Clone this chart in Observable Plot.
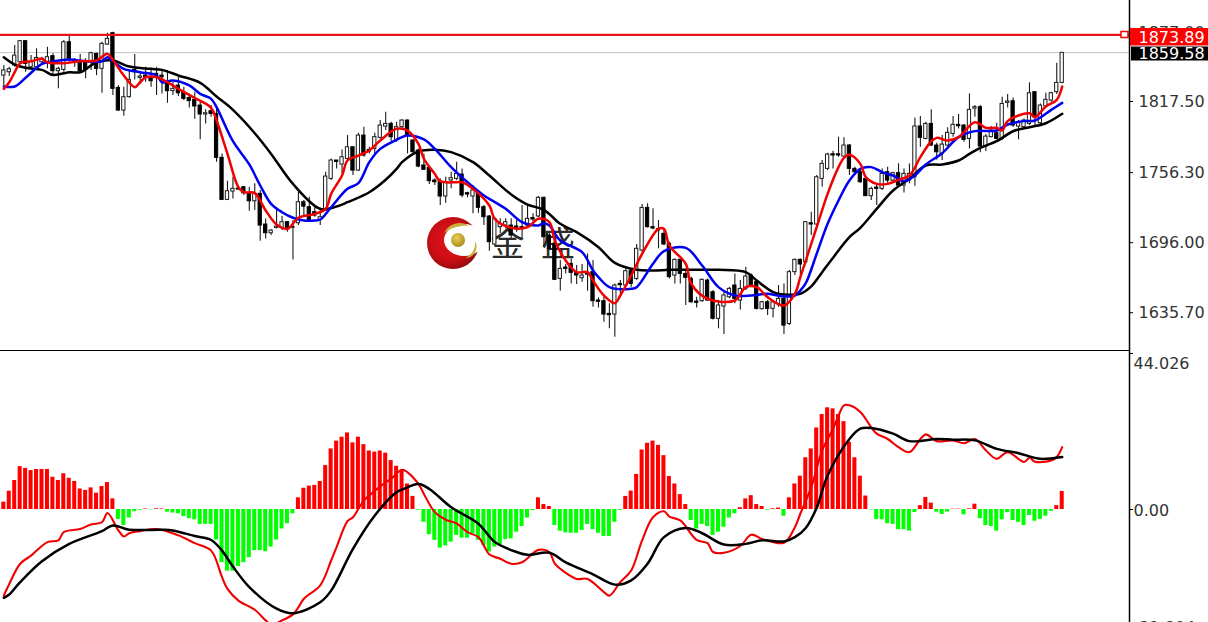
<!DOCTYPE html>
<html><head><meta charset="utf-8">
<script src="https://cdn.jsdelivr.net/npm/d3@7"></script>
<script src="https://cdn.jsdelivr.net/npm/@observablehq/plot@0.6"></script>
<style>
html,body{margin:0;padding:0;background:#fff;width:1208px;height:622px;overflow:hidden}
#wrap{position:relative;width:1208px;height:622px}
#logo{position:absolute;left:424px;top:214px;z-index:0}
#top,#bottom{position:relative;z-index:1}
svg{display:block}
</style></head><body>
<div id="wrap">
<svg id="logo" width="60" height="60" viewBox="0 0 60 60">
<defs><radialGradient id="rg" cx="45%" cy="45%" r="58%"><stop offset="0" stop-color="#e8141c"/><stop offset=".7" stop-color="#c80d14"/><stop offset="1" stop-color="#8e0a10"/></radialGradient>
<radialGradient id="gg" cx="40%" cy="35%" r="70%"><stop offset="0" stop-color="#e6cf5a"/><stop offset="1" stop-color="#a8891c"/></radialGradient></defs>
<circle cx="29" cy="29" r="26" fill="url(#rg)"/>
<ellipse cx="40" cy="26" rx="20" ry="16" fill="#fff"/>
<path d="M20 19 C25 9 37 6 45 12 C38 11 28 13 20 19Z" fill="#c9ad3e"/>
<path d="M41 44 C48 41 52 34 51 27 C55 34 51 44 41 44Z" fill="#c9ad3e"/>
<circle cx="34" cy="26" r="7" fill="url(#gg)"/>
</svg>
<div id="top"></div>
<div id="bottom"></div>
</div>
<script>
const opens=[1839.8,1842.7,1848.5,1851.3,1869.4,1847,1847,1851.3,1851.3,1856.5,
1843.6,1844.7,1868.5,1853.3,1852.2,1851.3,1851.3,1858.5,1845.6,1866.5,
1876.3,1829.2,1809.7,1821.2,1844.7,1837.8,1839.8,1838.4,1841.3,1839.8,
1833.2,1826.4,1831.2,1825.5,1820.6,1818.9,1814,1806.3,1809.1,1806.8,
1769,1732.8,1740,1742.6,1743.7,1738.5,1731.6,1738,1711.6,1704.1,
1708.7,1708.7,1713.6,1708.7,1712.7,1730.8,1726.5,1722.2,1715.6,1723.6,
1750.9,1766.7,1763.2,1768.1,1778.1,1758,1788.2,1775.8,1776.7,1786.2,
1795.9,1798.2,1784.5,1795.4,1801.1,1783.9,1775.3,1762.4,1760.4,1749.5,
1748,1735.7,1749.5,1750.9,1754.6,1738.6,1735.7,1739.4,1726.5,1718.5,
1694.4,1709.3,1710.7,1710.7,1709.9,1709.3,1710.7,1717.1,1718.5,1734.6,
1702.1,1695,1664.8,1674.6,1677.7,1669.7,1665.4,1669.7,1670.6,1646.2,
1645.6,1634.7,1634.1,1660.5,1659.1,1671.4,1664.8,1689.2,1725.9,1709.3,
1706.4,1703.6,1695,1667.7,1681.2,1669.1,1664.8,1645.3,1645.6,1663.4,
1653.3,1630.4,1641,1649,1659.1,1646.2,1656.2,1667.7,1662,1638.7,
1644.7,1639,1643.3,1647.6,1626,1670.6,1681.2,1679.1,1712.7,1711.6,
1750.9,1759.5,1772.1,1772.1,1770.1,1779.6,1759.5,1756.6,1750.9,1736,
1743.4,1742.3,1756.6,1749.4,1755.8,1745.1,1749.4,1752.3,1796,1785.3,
1798.2,1779.6,1772.4,1779.6,1789.6,1797.4,1796.8,1785.3,1811.4,1812.6,
1778.7,1786.8,1790.2,1785.3,1816.3,1817.7,1795.9,1795.4,1798.2,1825.5,
1798.8,1813.2,1818.3,1825.5,1833.5];
const highs=[1848.5,1847,1865.7,1870,1870,1857,1862.8,1855.6,1864.2,1858.5,
1847,1870,1874.3,1854.2,1857.9,1854.2,1859.9,1859.1,1868.5,1876.3,
1877.2,1831.2,1829.8,1844.2,1857.9,1841.3,1847,1845.6,1847,1844.2,
1844.2,1834.1,1838.4,1829.8,1824,1825.5,1816.9,1810.3,1814,1811.1,
1772.4,1748.9,1752.3,1744.3,1744.3,1743.7,1746.6,1740.8,1716.4,1707,
1724.2,1718.4,1714.1,1715,1739.4,1732.2,1735.1,1727.9,1725.9,1756.6,
1768.1,1766.7,1775.8,1788.2,1778.7,1790.2,1795.4,1778.1,1790.2,1801.1,
1808.3,1799.7,1799.7,1801.7,1801.7,1784.5,1776.7,1772.4,1761,1750.9,
1750.9,1752.3,1756.7,1765.3,1759.5,1739.4,1745.2,1740.9,1728,1719.3,
1717.1,1716.5,1716.5,1716.5,1715,1728,1728,1720.8,1735.7,1735.1,
1703.6,1696.4,1680.6,1677.2,1682,1676.3,1677.2,1686.3,1680.6,1648.5,
1649,1643.3,1660.5,1663.4,1673.4,1673.4,1694.4,1728.8,1729.4,1725.1,
1715,1706.4,1696.4,1682,1682,1672,1666.3,1649,1664.8,1664.8,
1654.8,1646.2,1653.3,1657.7,1669.1,1663.4,1674.9,1669.1,1663.4,1645.6,
1646.2,1646.2,1659.1,1660.5,1672,1682,1682,1714.1,1722.2,1753.8,
1766.7,1773,1774.7,1786.8,1786.2,1780.4,1760.9,1758,1751.7,1743.7,
1745.1,1759.5,1760.9,1756.6,1763.8,1759.5,1763.8,1803.4,1804.5,1799.7,
1810.3,1781.6,1788.2,1794.8,1804.5,1806.3,1797.6,1824,1814,1814,
1789,1795.9,1798.8,1821.2,1823.5,1820.6,1801.1,1802.5,1833.5,1826.1,
1815.4,1824.6,1825.5,1850.5,1859.6];
const lows=[1831.2,1839,1847,1849.9,1842.7,1845.6,1845.6,1849.9,1845.6,1839.8,
1828.4,1842.7,1851.3,1847,1842.7,1837,1844.2,1839.8,1824.6,1865.7,
1822.6,1809.1,1804.8,1820.6,1836.1,1832.7,1834.1,1829.8,1822.6,1824,
1816,1822.6,1821.8,1818.3,1812,1802.2,1784.5,1798.2,1804,1765.2,
1732.2,1732.2,1733.6,1740.8,1736.5,1723,1723.6,1697.2,1699.2,1702.1,
1707.8,1706.4,1705,1681.1,1710.7,1717.9,1715,1717.9,1710.7,1723,
1749.4,1759.5,1755.2,1766.7,1753.8,1757.5,1769.5,1772.4,1772.4,1785.3,
1792.5,1782.4,1782.4,1792.5,1772.4,1772.4,1760.4,1758.1,1746,1745.2,
1728,1730,1742.3,1749.5,1734.6,1734.6,1720.8,1721.4,1710.7,1688.6,
1693.5,1703.6,1707.9,1699.3,1705,1699.3,1709.3,1713.6,1717.3,1692.1,
1689.2,1663.4,1654.2,1669.1,1660.5,1659.9,1662,1654.2,1640.4,1639.8,
1627.5,1621.8,1614.6,1651.9,1657.7,1657.7,1663.4,1687.8,1708.7,1707,
1690.7,1693.5,1664.8,1660.5,1660.5,1641.9,1643.9,1639.8,1644.7,1645.6,
1629.5,1621.8,1616.9,1647.6,1643.3,1638.1,1654.8,1657.7,1638.1,1638.1,
1633.2,1631.2,1640.4,1616.9,1624.6,1667.7,1667.7,1677.7,1702.1,1710.7,
1743.7,1758,1759.5,1769.5,1769.5,1753.8,1753.8,1747.1,1735.7,1732.2,
1727.9,1740.8,1746.6,1748.9,1744.6,1738.8,1746.6,1744.6,1778.1,1784.5,
1778.7,1767.2,1766.7,1778.7,1786.8,1793.9,1782.4,1776.7,1804,1773.3,
1774.4,1786.2,1784.5,1783.9,1812,1795.4,1784.5,1793.1,1796.8,1796.8,
1797.6,1812,1816.9,1823.5,1832.7];
const closes=[1844.2,1845.3,1857,1869.4,1849.9,1851.3,1855,1854.2,1855.6,1843.6,
1845.6,1868.5,1853.3,1851.3,1843.6,1844.7,1859.1,1845.6,1867.1,1871.4,
1828.4,1809.7,1821.2,1836.1,1842.7,1839,1838.4,1835,1839.8,1838.4,
1826.4,1828.4,1824.6,1819.8,1817.8,1813.2,1806.3,1807.4,1806.8,1769,
1732.8,1740.3,1742.3,1741.7,1738.5,1731.6,1738,1710.7,1704.1,1706.4,
1709.8,1713.6,1708.7,1709.5,1730.8,1727,1715.6,1719.3,1717.9,1752.9,
1766.7,1765.5,1769.5,1778.1,1758,1788.2,1771,1774.4,1786.8,1796.8,
1798.2,1786.8,1795.4,1801.1,1788.2,1773.9,1761.5,1758.7,1748.9,1748,
1735.7,1748,1751.5,1755.2,1736.6,1737.4,1740.9,1726,1717.9,1696.4,
1716.5,1712.2,1713.6,1702.1,1708.7,1708.2,1716.5,1715.9,1734.6,1700.7,
1690.7,1664,1673.4,1673.4,1670,1667.7,1667.7,1668.5,1645.6,1645,
1634.1,1633.5,1659.1,1659.4,1671.4,1660.5,1690.7,1725.9,1709.3,1708.2,
1707.6,1694.4,1666.3,1681.2,1669.1,1665.7,1644.7,1644.2,1664,1646.2,
1630.4,1641.9,1650.5,1656.2,1647.6,1656.2,1666.8,1659.1,1639,1644.7,
1639,1644.7,1647.6,1624.6,1670.6,1681.2,1677.2,1713.6,1711.6,1752.3,
1763.8,1771.8,1771,1771,1779.6,1759.5,1756.6,1748,1736,1742.3,
1742.3,1755.2,1749.4,1755.8,1745.1,1755.2,1755.2,1796,1786.2,1798.2,
1779.6,1773.8,1780.4,1790.5,1797.4,1796.2,1784.5,1810.3,1812.6,1778.7,
1787.3,1792.5,1785.3,1815.4,1817.5,1796.8,1799.7,1801.1,1824.6,1804,
1814,1818.9,1824.6,1833.5,1859.4];

const maRedBars=[0,1,2,3,5,7,8,11,14,17,19,20,22,24,25,26,28,30,32,35,38,39,41,43,44,46,48,50,52,54,57,59,60,62,63,65,67,69,72,74,76,77,79,80,83,84,86,89,90,93,96,98,100,101,103,105,107,108,110,112,113,115,117,120,121,122,125,126,129,134,136,138,140,143,145,146,147,149,151,153,154,155,157,158,160,162,164,166,168,170,171,173,175,178,180,182,183,184,188,189,191,193,194];
const maRed=[1828.4,1834.1,1842.7,1850.5,1852.2,1854.2,1851.3,1850.5,1852.2,1852.8,1858.5,1853.3,1839.9,1829.8,1834.1,1838.4,1838.4,1834.1,1828.4,1820.6,1812,1801.1,1772.4,1743.7,1739.4,1738.6,1723.7,1711.6,1707.9,1717.4,1720.8,1725.1,1738,1753.8,1766.7,1771,1775.3,1783.9,1794,1792.5,1781.1,1768.2,1755.2,1748.9,1748,1748,1742.3,1728,1716.5,1708.8,1709.3,1716.5,1713.6,1697.9,1680.6,1670.6,1670.6,1663.4,1650.5,1643.9,1650.5,1667.7,1686.4,1707.9,1707.9,1693.5,1677.8,1660.6,1647.7,1646.2,1657.7,1657.7,1649.1,1641.9,1652,1666.3,1680.6,1709.3,1738,1761,1769,1771.6,1763.8,1752.4,1746.6,1746.6,1750.1,1753.8,1769.6,1783.3,1786.2,1783.9,1786.8,1799.7,1794.8,1794.8,1792.5,1800.6,1807.4,1804,1813.2,1818.9,1830.4];

const maBlueBars=[0,2,4,7,9,12,15,18,19,20,22,25,28,29,31,34,36,38,39,42,45,47,49,51,53,55,57,58,60,63,65,67,69,72,73,74,77,79,82,85,88,90,92,95,98,99,100,102,106,108,109,111,115,116,119,121,125,128,131,134,137,140,143,145,146,147,149,151,153,155,157,159,161,163,165,167,169,172,175,178,182,184,187,189,192,194];
const maBlue=[1830.4,1830.4,1837.9,1849.9,1851.9,1853.6,1852.2,1852.2,1855.6,1852.2,1845.6,1842.7,1839.9,1834.1,1835.6,1831.3,1824.1,1819.8,1812.6,1783.3,1763.3,1745.2,1729.4,1722.2,1717.4,1715,1715,1715.9,1726.5,1742.3,1747.2,1765.3,1776.7,1784.5,1786.8,1788.2,1784.8,1776.8,1761,1748,1736.6,1730.9,1725.1,1713.6,1710.8,1712.8,1710.8,1697.9,1687.8,1672,1666.3,1657.7,1656.3,1657.7,1677.8,1688.7,1691.5,1676.3,1657.7,1650.5,1650.5,1652,1649.6,1650.5,1654.8,1661.1,1686.4,1712.2,1732.3,1749.5,1759.5,1761,1756.7,1753.8,1748.9,1753.8,1763.3,1773,1786.8,1792,1792.5,1797.7,1800.6,1801.1,1810.3,1816.3];

const maBlackBars=[0,2,4,7,9,12,14,17,20,23,27,29,32,36,39,42,46,49,53,58,61,63,67,70,72,73,76,79,82,86,89,93,96,99,102,105,109,112,116,119,122,126,131,136,138,141,143,146,148,150,152,155,157,160,163,166,169,172,175,177,179,182,185,188,191,194];
const maBlack=[1855.6,1849.3,1846.5,1844.7,1840.4,1842.7,1842.7,1851.3,1852.8,1847.6,1845.6,1844.7,1839.9,1833.6,1821.8,1810.3,1790.2,1772.4,1746.6,1725.1,1727.1,1730.8,1739.4,1750.1,1759.5,1765.3,1774.5,1775.9,1773.9,1765.3,1753.8,1737.5,1728.8,1724.2,1712.2,1705,1692.1,1678.6,1672.6,1672,1672.6,1672.6,1672.6,1670.6,1663.4,1653.4,1651.4,1652,1658.3,1670.6,1683,1700.7,1708.7,1725.1,1740.9,1750.9,1762.4,1763.3,1766.7,1772.4,1777.6,1783.3,1791.9,1795.4,1798.8,1806.9];

const histogram=[2.07,5.17,8.18,12.1,11.6,11,11.3,11.3,11.3,9.1,
8.2,10.1,8.8,7.9,5.8,5.4,6.1,4.6,6.5,7.6,
3,-2.8,-4.5,-2.4,-0.6,-0.2,0.15,-0.1,0.2,0.15,
-0.75,-1,-1.2,-2,-2.6,-2.9,-4.2,-4.2,-4.2,-8.6,
-15,-17.4,-17.4,-16.1,-15,-13.6,-11.6,-11.6,-11.9,-10.6,
-8.6,-5.5,-4,-1.2,3.3,6,6.6,6.8,7.9,12.4,
17.1,19.3,20.4,21.6,18.8,20.4,18.3,16.5,16.2,16.5,
15.9,13.8,12.2,11.2,7.2,3.7,-0.2,-3.6,-7.1,-8.7,
-10.9,-10.3,-9.2,-7.3,-8.1,-8.1,-6.9,-8.7,-10.2,-12,
-10.6,-9.9,-8.5,-8.3,-6.4,-4.8,-2.4,-0.3,3.3,1.4,
0.85,-4.5,-6.1,-6.6,-6.7,-6.7,-5.9,-4.2,-5.7,-6.7,
-7.6,-7.6,-3.6,-0.2,3.7,5.2,9.9,16.8,18.7,19.3,
18.1,15.2,9.3,7.2,4.2,1.4,-3.1,-5.5,-4.2,-4.8,
-7.3,-6.4,-5,-2.4,-1.2,0.5,3,3.9,1.4,0.85,
-0.2,0.2,0.4,-1.9,3.3,7.2,9.4,14.6,17.1,23,
26.8,28.7,28.4,26.8,24.8,19,14.6,9.4,3.8,-0.1,
-2.8,-2.9,-4,-4.2,-5.7,-5.7,-6.1,-0.85,1.1,3.4,
1.8,-0.75,-1.4,-0.75,0.1,0.1,-1.5,0.2,1.5,-2.6,
-4.5,-4.8,-6.1,-2.9,-0.9,-3.1,-3.6,-4.5,-1.7,-3.3,
-2.8,-1.9,-0.5,1.1,5.1];

const macdBars=[0,1,3,5,8,10,11,14,16,18,19,21,22,23,25,28,32,35,38,40,41,43,46,48,49,51,53,54,55,58,60,61,63,64,65,66,69,71,73,74,76,77,79,81,83,85,87,88,89,91,93,95,98,100,101,103,105,107,110,111,113,115,117,119,121,122,124,127,129,130,132,135,137,139,143,145,146,148,150,152,153,154,155,157,159,160,162,164,166,168,169,171,174,176,178,180,182,184,187,188,189,192,193,194];
const macdLine=[-24.3,-21,-15.3,-13,-9.2,-8.7,-6.4,-5.5,-4.2,-3.6,-1,-5.9,-7.6,-6.7,-6.1,-5.5,-7.3,-9.5,-11.6,-19.1,-22.4,-25.7,-28.3,-31.3,-32.5,-31.3,-29.6,-27.6,-25.2,-21.4,-14.4,-10.6,-3.3,-2.2,0.2,2.5,6.5,8.7,11.2,10.5,7.2,4.4,-0.75,-2.9,-3.9,-6.4,-7.8,-10.2,-12.7,-13.9,-15.3,-14.9,-11.4,-12,-15.3,-17.9,-19.6,-19.6,-23.3,-24.3,-20.5,-17.2,-8.7,-2.2,-0.5,-2,-3.1,-8.6,-9.5,-12,-12.2,-10.3,-7.1,-8.3,-9.4,-5,-1.2,6.3,16.7,22.8,26.5,29.4,29.4,27.5,23.2,21.4,19.9,17.6,16.2,19.9,21.2,19.3,19.5,18.7,19.9,16.7,14.3,16.2,13.4,14.6,13.5,13.8,14.8,17.6];

const signalBars=[0,1,3,7,12,18,20,23,29,31,35,38,40,42,45,50,53,58,60,64,68,72,73,76,78,82,87,90,94,96,100,103,108,112,115,118,121,125,128,132,136,139,143,145,147,149,151,155,157,159,163,166,171,174,178,182,186,190,194];
const signalLine=[-24.9,-24,-20.5,-14.6,-9.7,-6.1,-4.5,-5.7,-5.7,-5.9,-7.5,-8.6,-11.6,-16.1,-21.9,-28,-29.3,-26.2,-22.9,-11.1,-1.7,4.9,5.6,7.2,5.8,0.65,-4,-9.2,-12,-12.8,-12.2,-14.9,-18.3,-21.2,-20,-15.3,-7.8,-5.2,-6.7,-9.9,-9.7,-8.7,-9,-7.8,-5.2,0.5,9.6,19.9,22.8,23,21.4,19.3,19.9,19.7,19.5,17.1,15.9,14.3,14.8];

const priceTicks=[1877.0,1817.5,1756.3,1696.0,1635.7];
const priceTickLabels=["1877.00","1817.50","1756.30","1696.00","1635.70"];
const macdTicks=[44.026,0,-31.894];
const macdTickLabels=["44.026","0.00","-31.894"];
const macdLabelOffsets=[10,1.5,5];
const highLine=1874.8, highLabel="1873.89", lastPrice=1859.58, lastLabel="1859.58";
const watermark=["金","盛"];

// helpers for decoration placed in page pixels (axis strip, labels, watermark)
const xi=px=>(px-3.3)/5.4557;
const py=y=>1904.44-0.8608*y;
const my=y=>(158-y)*0.2822;
const xOpt={domain:[xi(0),xi(1208)],range:[0,1208],axis:null};
const fam="DejaVu Sans";
const labelStyle={fontFamily:fam,fontSize:16,textAnchor:"start",style:{letterSpacing:"0.4px"}};
const idx=d3.range(opens.length);
const bull=idx.filter(i=>closes[i]>=opens[i]), bear=idx.filter(i=>closes[i]<opens[i]);
const line=(bars,vals,stroke,w)=>Plot.line(bars,{x:d=>d,y:(d,i)=>vals[i],stroke,strokeWidth:w,strokeLinejoin:"round",curve:"catmull-rom"});
const ink="#1a1a1a";
const hw=0.3;

const topPlot=Plot.plot({width:1208,height:351,margin:0,style:{background:"transparent"},
 x:xOpt,y:{domain:[py(351),py(0)],range:[351,0],axis:null},
 marks:[
  Plot.text(watermark,{x:(d,i)=>xi(507+i*50.5),y:py(245),text:d=>d,fontFamily:"Noto Sans CJK SC",fontSize:34,fill:"#2b2b2b"}),
  Plot.ruleY([lastPrice],{x1:xi(0),x2:xi(1129),stroke:"#c4c4c4",strokeWidth:1}),
  Plot.ruleX(idx,{x:d=>d,y1:i=>lows[i],y2:i=>highs[i],stroke:ink,strokeWidth:1.1}),
  Plot.rect(bull,{x1:d=>d-hw,x2:d=>d+hw,y1:i=>opens[i],y2:i=>closes[i],fill:"#fff",stroke:ink,strokeWidth:1}),
  Plot.rect(bear,{x1:d=>d-hw,x2:d=>d+hw,y1:i=>opens[i],y2:i=>closes[i],fill:"#000",stroke:"#000",strokeWidth:1}),
  line(maBlackBars,maBlack,"#000",2.5),
  line(maBlueBars,maBlue,"#0000f0",2.5),
  line(maRedBars,maRed,"#f00000",2.5),
  Plot.ruleY([highLine],{x1:xi(0),x2:xi(1129),stroke:"#e8141c",strokeWidth:2.2}),
  Plot.rect([0],{x1:xi(1121),x2:xi(1128),y1:py(31.5),y2:py(37.5),fill:"#fff",stroke:"#f00",strokeWidth:1.5}),
  Plot.ruleX([0],{x:xi(1129),y1:py(0),y2:py(351),stroke:"#000",strokeWidth:1.5}),
  Plot.ruleY(priceTicks,{x1:xi(1129),x2:xi(1133),stroke:"#000",strokeWidth:1}),
  Plot.text(priceTickLabels,{x:xi(1138),y:(d,i)=>priceTicks[i],text:d=>d,fill:"#333",...labelStyle}),
  Plot.rect([0],{x1:xi(1130),x2:xi(1208),y1:py(45.5),y2:py(28),fill:"#ff0000"}),
  Plot.rect([0],{x1:xi(1131),x2:xi(1208),y1:py(60.5),y2:py(46.5),fill:"#000"}),
  Plot.text([highLabel],{x:xi(1138),y:py(37),text:d=>d,fill:"#fff",...labelStyle}),
  Plot.text([lastLabel],{x:xi(1138),y:py(53.5),text:d=>d,fill:"#fff",...labelStyle}),
  Plot.ruleY([0],{y:py(350.2),x1:xi(0),x2:xi(1129),stroke:"#000",strokeWidth:1.5})
 ]});
document.getElementById("top").append(topPlot);

const ups=idx.filter(i=>histogram[i]>=0), downs=idx.filter(i=>histogram[i]<0);
const bw=0.37;
const bottomPlot=Plot.plot({width:1208,height:271,margin:0,style:{background:"transparent"},
 x:xOpt,y:{domain:[my(271),my(0)],range:[271,0],axis:null},
 marks:[
  Plot.rect(ups,{x1:d=>d-bw,x2:d=>d+bw,y1:0,y2:i=>histogram[i],fill:"#ff0000"}),
  Plot.rect(downs,{x1:d=>d-bw,x2:d=>d+bw,y1:0,y2:i=>histogram[i],fill:"#00ff00"}),
  line(macdBars,macdLine,"#f00000",2.1),
  line(signalBars,signalLine,"#000",2.5),
  Plot.ruleX([0],{x:xi(1129),y1:my(0),y2:my(271),stroke:"#000",strokeWidth:1.5}),
  Plot.ruleY(macdTicks,{x1:xi(1129),x2:xi(1133),stroke:"#000",strokeWidth:1}),
  ...macdTickLabels.map((t,i)=>Plot.text([t],{x:xi(1133),y:macdTicks[i],dy:macdLabelOffsets[i],text:d=>d,fill:"#333",...labelStyle}))
 ]});
document.getElementById("bottom").append(bottomPlot);
</script>
</body></html>
